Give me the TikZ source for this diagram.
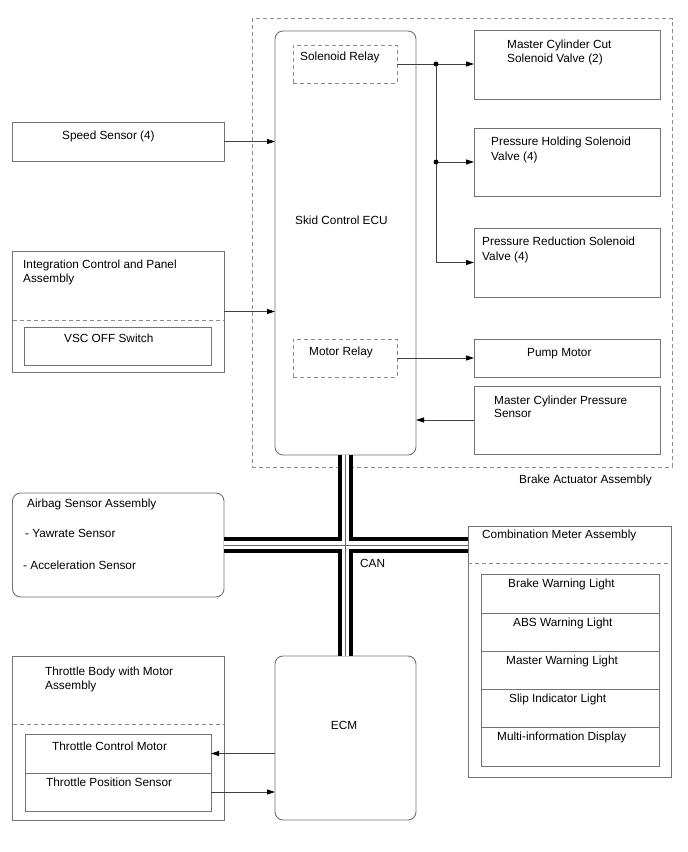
\documentclass[tikz,border=0pt]{standalone}
\usepackage{fontspec}
\setmainfont{Liberation Sans}
\usetikzlibrary{arrows.meta}
\newcommand\bxx[6]{\node[#6, minimum width=#4-#2, minimum height=#5-#3] (#1) at (#2,#3) {};}
\newcommand\tx[4]{\node[txt] (#1) at (#2,#3+4.3) {#4};}
\begin{document}
\begin{tikzpicture}[x=1pt,y=-1pt,
  bx/.style={draw=black!55, line width=0.9pt, rectangle, inner sep=0pt, outer sep=0pt, anchor=north west},
  rbx/.style={bx, rounded corners=8pt},
  dbx/.style={bx, draw=black!45, dash pattern=on 4pt off 3pt},
  dline/.style={draw=black!45, line width=0.9pt, dash pattern=on 4pt off 3pt},
  txt/.style={inner sep=0pt, anchor=base west, font=\fontsize{11.8}{14}\selectfont},
  arr/.style={draw=black!75, line width=0.8pt, -{Triangle[length=8pt,width=5pt,color=black]}},
  ln/.style={draw=black!75, line width=0.8pt},
  ]
\useasboundingbox[fill=white] (0,0) rectangle (688,852);

% Brake actuator assembly
\bxx{ba}{252}{18.5}{672}{467}{dbx}
\bxx{ecu}{275}{31}{416}{455}{rbx}
\bxx{sr}{293}{45}{397}{83}{dbx}
\bxx{mr}{293}{339}{397}{377}{dbx}
\bxx{mcc}{474}{30}{660}{99}{bx}
\bxx{ph}{474}{128}{660}{196}{bx}
\bxx{pr}{474}{228}{660}{297}{bx}
\bxx{pm}{474}{339}{660}{377}{bx}
\bxx{mcps}{474}{386}{660}{454}{bx}

% left side
\bxx{ss}{12.5}{122}{224}{161}{bx}
\bxx{icp}{12.5}{251}{224}{372}{bx}
\draw[dline] (icp.west |- 0,320) -- (icp.east |- 0,320);
\bxx{vsc}{24}{327}{211}{365}{bx}
\bxx{ab}{12.5}{493}{224}{597}{rbx}
\bxx{tb}{12.5}{656}{224}{820}{bx}
\draw[dline] (tb.west |- 0,724) -- (tb.east |- 0,724);
\bxx{tcm}{25}{734}{211}{773}{bx}
\bxx{tps}{25}{773}{211}{811}{bx}
\bxx{ecm}{275}{656}{416}{820}{rbx}

% combination meter
\bxx{cm}{468}{526}{671}{777}{bx}
\draw[dline] (cm.west |- 0,563) -- (cm.east |- 0,563);
\bxx{r1}{481}{574}{659}{613}{bx}
\bxx{r2}{481}{613}{659}{651}{bx}
\bxx{r3}{481}{651}{659}{689}{bx}
\bxx{r4}{481}{689}{659}{727}{bx}
\bxx{r5}{481}{727}{659}{766}{bx}

% CAN bus
\foreach \w/\c in {15.5/black, 7.5/white}{
  \draw[line width=\w pt, \c] (ecu.south) -- (ecm.north);
  \draw[line width=\w pt, \c] (ab.east) -- (ab.east -| cm.west);
}
\draw[line width=0.8pt, black!60] (ecu.south) -- (ecm.north);
\draw[line width=0.8pt, black!60] (ab.east) -- (ab.east -| cm.west);

% connectors
\coordinate (j1) at (436,64);
\draw[arr] (sr.east) -- (sr.east -| mcc.west);
\draw[ln] (j1) -- (j1 |- pr.west);
\draw[arr] (j1 |- pr.west) -- (pr.west);
\draw[arr] (j1 |- ph.west) -- (ph.west);
\fill[black] (j1) circle (2.4pt);
\fill[black] (j1 |- ph.west) circle (2.4pt);
\draw[arr] (mr.east) -- (mr.east -| pm.west);
\draw[arr] (mcps.west) -- (mcps.west -| ecu.east);
\draw[arr] (ss.east) -- (ss.east -| ecu.west);
\draw[arr] (icp.east) -- (icp.east -| ecu.west);
\draw[arr] (tcm.east -| ecm.west) -- (tcm.east);
\draw[arr] (tps.east) -- (tps.east -| ecm.west);

% texts
\node[txt] (t-sr) at (300,60.5) {Solenoid Relay};
\tx{t-mcc1}{507}{44}{Master Cylinder Cut}
\tx{t-mcc2}{507}{58}{Solenoid Valve (2)}
\tx{t-ph1}{491}{141.5}{Pressure Holding Solenoid}
\tx{t-ph2}{491}{156}{Valve (4)}
\tx{t-pr1}{482}{241}{Pressure Reduction Solenoid}
\tx{t-pr2}{482}{256}{Valve (4)}
\tx{t-ecu}{295}{220}{Skid Control ECU}
\tx{t-mr}{309}{351}{Motor Relay}
\tx{t-pm}{527}{352.5}{Pump Motor}
\tx{t-mcps1}{494}{400}{Master Cylinder Pressure}
\tx{t-mcps2}{494}{413.5}{Sensor}
\tx{t-ba}{519}{479}{Brake Actuator Assembly}
\tx{t-ss}{62}{135}{Speed Sensor (4)}
\tx{t-icp1}{23}{264.5}{Integration Control and Panel}
\tx{t-icp2}{23}{278}{Assembly}
\tx{t-vsc}{64}{338}{VSC OFF Switch}
\tx{t-ab1}{27}{503}{Airbag Sensor Assembly}
\tx{t-ab2}{25}{533}{- Yawrate Sensor}
\tx{t-ab3}{23}{565}{- Acceleration Sensor}
\tx{t-can}{360}{563}{CAN}
\tx{t-cm}{482}{534}{Combination Meter Assembly}
\tx{t-r1}{508}{583}{Brake Warning Light}
\tx{t-r2}{513}{622}{ABS Warning Light}
\tx{t-r3}{506}{660}{Master Warning Light}
\tx{t-r4}{509}{698}{Slip Indicator Light}
\tx{t-r5}{497}{736}{Multi-information Display}
\tx{t-tb1}{45}{671}{Throttle Body with Motor}
\tx{t-tb2}{45}{685}{Assembly}
\tx{t-tcm}{52}{746}{Throttle Control Motor}
\tx{t-tps}{46}{782}{Throttle Position Sensor}
\node[txt, anchor=base] (t-ecm) at (344,729.3) {ECM};
\end{tikzpicture}
\end{document}
